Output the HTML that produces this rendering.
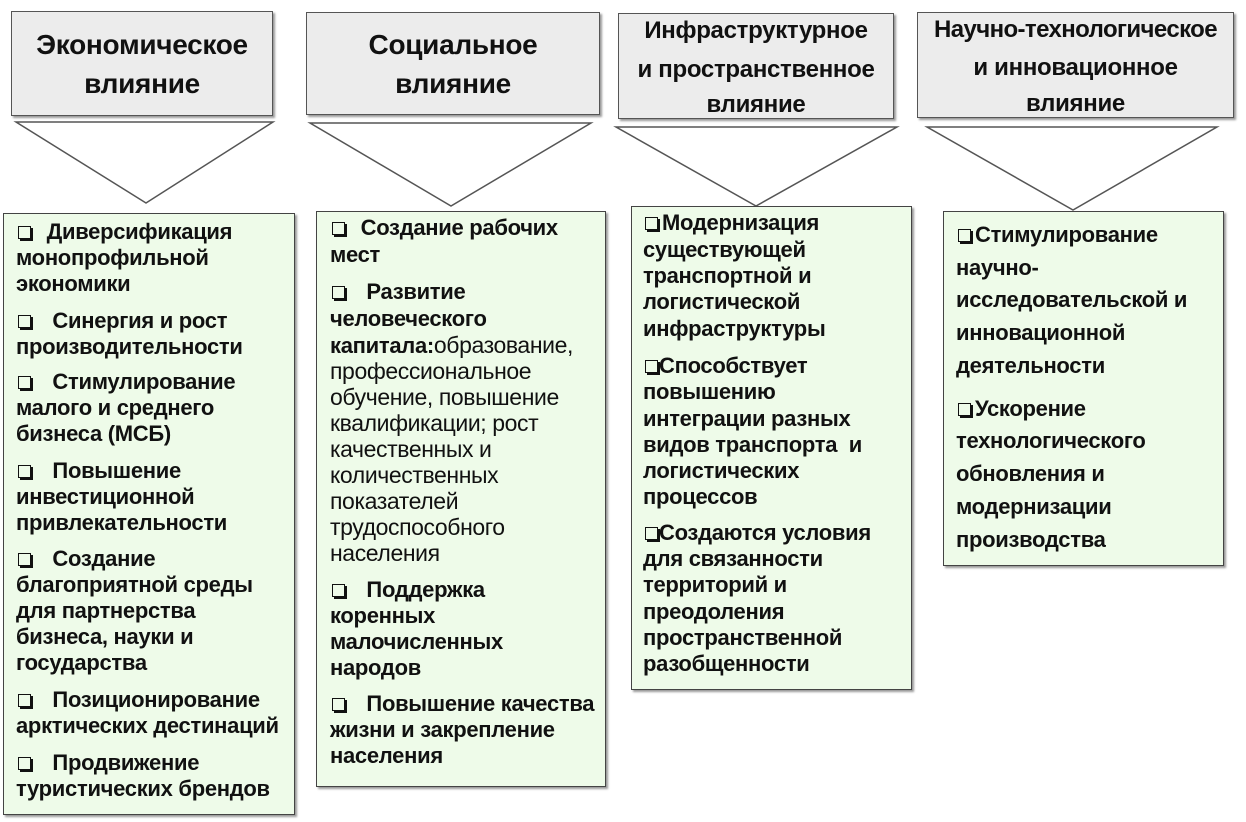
<!DOCTYPE html>
<html><head><meta charset="utf-8"><style>
body{margin:0;width:1246px;height:822px;background:#fff;position:relative;overflow:hidden;font-family:"Liberation Sans",sans-serif;color:#111}
.h{position:absolute;background:#ececec;border:1.5px solid #555;box-shadow:2px 2px 2px #999;box-sizing:border-box}
.b{position:absolute;background:#eefbe9;border:1.5px solid #444;box-shadow:2px 2px 2px #999;box-sizing:border-box}
.l{position:absolute;height:26px;line-height:26px;white-space:nowrap;font-weight:bold;font-size:22px;letter-spacing:-0.3px}
.ht{position:absolute;height:36px;line-height:36px;white-space:nowrap;font-weight:bold;font-size:28px;letter-spacing:-0.3px;text-align:center}
.n{font-weight:normal;font-size:23px;letter-spacing:-0.4px}
.c{display:inline-block;width:11px;height:11px;border:1.5px solid #111;box-shadow:2px 2px 0 #111;vertical-align:0px;margin-right:4px}
svg{position:absolute;left:0;top:0}
</style></head><body>
<svg width="1246" height="822">
<g fill="#fff" stroke="#555" stroke-width="1.5">
<polygon points="16,122 273,122 146,203"/>
<polygon points="310,123 591,123 451,206"/>
<polygon points="616,127 897,127 756,206"/>
<polygon points="927,127 1217,127 1073,210"/>
</g></svg>
<div class="h" style="left:11px;top:11px;width:262px;height:105px"></div>
<div class="h" style="left:306px;top:12px;width:294px;height:103px"></div>
<div class="h" style="left:618px;top:13px;width:276px;height:106px"></div>
<div class="h" style="left:917px;top:12px;width:317px;height:106px"></div>
<div class="ht" style="left:11px;width:262px;top:27px">Экономическое</div>
<div class="ht" style="left:11px;width:262px;top:66px">влияние</div>
<div class="ht" style="left:306px;width:294px;top:27px">Социальное</div>
<div class="ht" style="left:306px;width:294px;top:66px">влияние</div>
<div class="ht" style="left:618px;width:276px;top:13px;font-size:24px">Инфраструктурное</div>
<div class="ht" style="left:618px;width:276px;top:52px;font-size:24px">и пространственное</div>
<div class="ht" style="left:618px;width:276px;top:87px;font-size:24px">влияние</div>
<div class="ht" style="left:917px;width:317px;top:12px;font-size:24px;letter-spacing:-0.6px">Научно-технологическое</div>
<div class="ht" style="left:917px;width:317px;top:50px;font-size:24px">и инновационное</div>
<div class="ht" style="left:917px;width:317px;top:86px;font-size:24px">влияние</div>

<div class="b" style="left:3px;top:213px;width:292px;height:602px"></div>
<div class="b" style="left:316px;top:211px;width:290px;height:576px"></div>
<div class="b" style="left:631px;top:206px;width:281px;height:484px"></div>
<div class="b" style="left:943px;top:211px;width:281px;height:355px"></div>

<div class="l" style="left:18px;top:219px"><span class="c"></span>&nbsp;&nbsp;Диверсификация</div>
<div class="l" style="left:16px;top:245px">монопрофильной</div>
<div class="l" style="left:16px;top:271px">экономики</div>
<div class="l" style="left:18px;top:308px"><span class="c"></span>&nbsp;&nbsp;&nbsp;Синергия и рост</div>
<div class="l" style="left:16px;top:334px">производительности</div>
<div class="l" style="left:18px;top:369px"><span class="c"></span>&nbsp;&nbsp;&nbsp;Стимулирование</div>
<div class="l" style="left:16px;top:395px">малого и среднего</div>
<div class="l" style="left:16px;top:421px">бизнеса (МСБ)</div>
<div class="l" style="left:18px;top:458px"><span class="c"></span>&nbsp;&nbsp;&nbsp;Повышение</div>
<div class="l" style="left:16px;top:484px">инвестиционной</div>
<div class="l" style="left:16px;top:510px">привлекательности</div>
<div class="l" style="left:18px;top:546px"><span class="c"></span>&nbsp;&nbsp;&nbsp;Создание</div>
<div class="l" style="left:16px;top:572px">благоприятной среды</div>
<div class="l" style="left:16px;top:598px">для партнерства</div>
<div class="l" style="left:16px;top:624px">бизнеса, науки и</div>
<div class="l" style="left:16px;top:650px">государства</div>
<div class="l" style="left:18px;top:687px"><span class="c"></span>&nbsp;&nbsp;&nbsp;Позиционирование</div>
<div class="l" style="left:16px;top:713px">арктических дестинаций</div>
<div class="l" style="left:18px;top:750px"><span class="c"></span>&nbsp;&nbsp;&nbsp;Продвижение</div>
<div class="l" style="left:16px;top:776px">туристических брендов</div>

<div class="l" style="left:332px;top:215px"><span class="c"></span>&nbsp;&nbsp;Создание рабочих</div>
<div class="l" style="left:330px;top:242px">мест</div>
<div class="l" style="left:332px;top:279px"><span class="c"></span>&nbsp;&nbsp;&nbsp;Развитие</div>
<div class="l" style="left:330px;top:306px">человеческого</div>
<div class="l" style="left:330px;top:332px">капитала:<span class="n">образование,</span></div>
<div class="l n" style="left:330px;top:358px">профессиональное</div>
<div class="l n" style="left:330px;top:384px">обучение, повышение</div>
<div class="l n" style="left:330px;top:410px">квалификации; рост</div>
<div class="l n" style="left:330px;top:436px">качественных и</div>
<div class="l n" style="left:330px;top:462px">количественных</div>
<div class="l n" style="left:330px;top:488px">показателей</div>
<div class="l n" style="left:330px;top:514px">трудоспособного</div>
<div class="l n" style="left:330px;top:540px">населения</div>
<div class="l" style="left:332px;top:577px"><span class="c"></span>&nbsp;&nbsp;&nbsp;Поддержка</div>
<div class="l" style="left:330px;top:603px">коренных</div>
<div class="l" style="left:330px;top:629px">малочисленных</div>
<div class="l" style="left:330px;top:655px">народов</div>
<div class="l" style="left:332px;top:691px"><span class="c"></span>&nbsp;&nbsp;&nbsp;Повышение качества</div>
<div class="l" style="left:330px;top:717px">жизни и закрепление</div>
<div class="l" style="left:330px;top:743px">населения</div>

<div class="l" style="left:645px;top:210px"><span class="c"></span>Модернизация</div>
<div class="l" style="left:643px;top:237px">существующей</div>
<div class="l" style="left:643px;top:263px">транспортной и</div>
<div class="l" style="left:643px;top:289px">логистической</div>
<div class="l" style="left:643px;top:316px">инфраструктуры</div>
<div class="l" style="left:645px;top:353px"><span class="c" style="margin-right:1px"></span>Способствует</div>
<div class="l" style="left:643px;top:379px">повышению</div>
<div class="l" style="left:643px;top:406px">интеграции разных</div>
<div class="l" style="left:643px;top:432px">видов транспорта&nbsp; и</div>
<div class="l" style="left:643px;top:458px">логистических</div>
<div class="l" style="left:643px;top:484px">процессов</div>
<div class="l" style="left:645px;top:520px"><span class="c" style="margin-right:1px"></span>Создаются условия</div>
<div class="l" style="left:643px;top:546px">для связанности</div>
<div class="l" style="left:643px;top:572px">территорий и</div>
<div class="l" style="left:643px;top:599px">преодоления</div>
<div class="l" style="left:643px;top:625px">пространственной</div>
<div class="l" style="left:643px;top:651px">разобщенности</div>

<div class="l" style="left:958px;top:222px"><span class="c"></span>Стимулирование</div>
<div class="l" style="left:956px;top:255px">научно-</div>
<div class="l" style="left:956px;top:287px">исследовательской и</div>
<div class="l" style="left:956px;top:320px">инновационной</div>
<div class="l" style="left:956px;top:353px">деятельности</div>
<div class="l" style="left:958px;top:396px"><span class="c"></span>Ускорение</div>
<div class="l" style="left:956px;top:428px">технологического</div>
<div class="l" style="left:956px;top:461px">обновления и</div>
<div class="l" style="left:956px;top:494px">модернизации</div>
<div class="l" style="left:956px;top:527px">производства</div>
</body></html>
